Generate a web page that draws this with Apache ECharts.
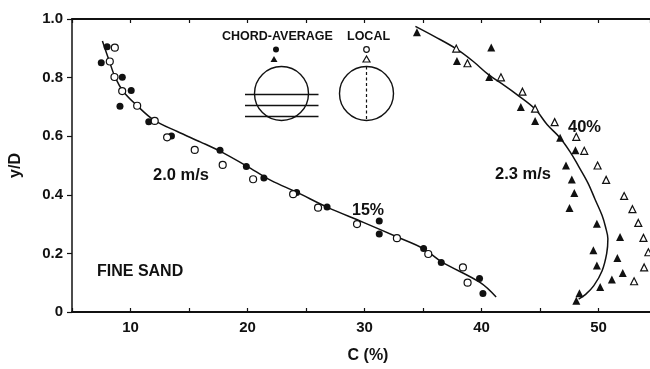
<!DOCTYPE html>
<html>
<head>
<meta charset="utf-8">
<script src="https://cdn.jsdelivr.net/npm/echarts@6/dist/echarts.min.js"></script>
<style>
  html, body { margin: 0; padding: 0; background: #fff; }
  #chart { width: 650px; height: 369px; }
</style>
</head>
<body>
<div id="chart"></div>
<script>
// Concentration profiles C (%) against height y/D, fine sand slurry.
// 2.0 m/s, 15 % mean concentration: chord-average (filled) and local (open) probes
const chordCircles = [
  [8.0, 0.905], [7.5, 0.851], [9.3, 0.801], [10.06, 0.756], [9.1, 0.702],
  [11.56, 0.649], [13.5, 0.601], [17.65, 0.552], [19.9, 0.497], [21.4, 0.457],
  [24.2, 0.408], [26.8, 0.358], [31.26, 0.311], [31.26, 0.266], [35.05, 0.217],
  [36.56, 0.169], [39.83, 0.114], [40.12, 0.063]
];
const localCircles = [
  [8.66, 0.902], [8.23, 0.855], [8.63, 0.802], [9.29, 0.754], [10.57, 0.704],
  [12.07, 0.652], [13.13, 0.596], [15.49, 0.553], [17.88, 0.502], [20.48, 0.453],
  [23.9, 0.402], [26.03, 0.356], [29.36, 0.300], [32.77, 0.252], [35.45, 0.198],
  [38.41, 0.152], [38.81, 0.100]
];
// 2.3 m/s, 40 % mean concentration
const chordTriangles = [
  [34.48, 0.955], [37.9, 0.857], [40.83, 0.903], [40.66, 0.802], [43.36, 0.700],
  [44.58, 0.652], [46.72, 0.595], [48.03, 0.552], [47.22, 0.500], [47.72, 0.452],
  [47.93, 0.406], [47.52, 0.355], [49.86, 0.301], [51.84, 0.256], [49.56, 0.211],
  [51.61, 0.184], [49.86, 0.159], [52.07, 0.133], [51.14, 0.111], [50.14, 0.085],
  [48.37, 0.064], [48.1, 0.038]
];
const localTriangles = [
  [37.84, 0.899], [38.8, 0.849], [41.66, 0.801], [43.5, 0.752], [44.58, 0.694],
  [46.25, 0.648], [48.1, 0.598], [48.78, 0.550], [49.92, 0.500], [50.65, 0.451],
  [52.19, 0.396], [52.9, 0.351], [53.4, 0.304], [53.84, 0.253], [54.26, 0.204],
  [53.9, 0.152], [53.04, 0.105]
];
// Fitted profile curves
const fitCurve15 = [
  [7.6, 0.925], [8.2, 0.855], [8.7, 0.800], [9.4, 0.752], [10.6, 0.703],
  [12.0, 0.655], [14.0, 0.616], [16.0, 0.580], [17.6, 0.550], [19.9, 0.499],
  [22.0, 0.449], [24.2, 0.409], [26.8, 0.358], [29.9, 0.306], [32.8, 0.256],
  [35.0, 0.217], [36.6, 0.171], [39.9, 0.100], [41.25, 0.051]
];
const fitCurve40 = [
  [34.35, 0.975], [36.0, 0.940], [37.85, 0.898], [39.3, 0.855], [40.6, 0.810],
  [42.0, 0.772], [43.0, 0.743], [44.6, 0.692], [45.6, 0.640], [46.7, 0.595],
  [47.6, 0.545], [48.3, 0.497], [49.1, 0.440], [49.7, 0.385], [50.3, 0.330],
  [50.6, 0.290], [50.8, 0.250], [50.7, 0.200], [50.3, 0.140], [49.6, 0.090],
  [48.9, 0.060], [48.3, 0.044]
];
const xRange = [5, 54.4];
const yTickLabels = { 0: '0', 0.2: '0.2', 0.4: '0.4', 0.6: '0.6', 0.8: '0.8', 1: '1.0' };

const FONT = "'Liberation Sans', Arial, Helvetica, sans-serif";
const INK = '#111';

const chart = echarts.init(document.getElementById('chart'), null, { renderer: 'canvas' });

function txt(text, x, y, size) {
  return {
    type: 'text', x: x, y: y,
    style: { text: text, fill: INK, font: 'bold ' + size + 'px ' + FONT, textVerticalAlign: 'middle' }
  };
}

const filledStyle = { color: INK, opacity: 1 };
const openStyle = { color: '#fff', borderColor: INK, borderWidth: 1.2, opacity: 1 };

chart.setOption({
  backgroundColor: '#fff',
  animation: false,
  grid: { left: 72, right: 0, top: 19, bottom: 52 },
  xAxis: [
    {
      type: 'value', position: 'bottom', min: xRange[0], max: xRange[1], interval: 5,
      name: 'C (%)', nameLocation: 'middle', nameGap: 36,
      nameTextStyle: { color: INK, fontFamily: FONT, fontWeight: 'bold', fontSize: 16, padding: [0, 0, 0, 14] },
      axisLine: { lineStyle: { color: INK, width: 2 } },
      axisTick: { inside: true, length: 4, lineStyle: { color: INK, width: 1.2 } },
      axisLabel: {
        color: INK, fontFamily: FONT, fontWeight: 'bold', fontSize: 15, margin: 8,
        showMaxLabel: false,
        formatter: v => (Math.abs(v % 10) < 1e-9 ? String(v) : '')
      },
      splitLine: { show: false }
    },
    {
      type: 'value', position: 'top', min: xRange[0], max: xRange[1], interval: 5,
      axisLine: { lineStyle: { color: INK, width: 2 } },
      axisTick: { inside: true, length: 4, lineStyle: { color: INK, width: 1.2 } },
      axisLabel: { show: false },
      splitLine: { show: false }
    }
  ],
  yAxis: {
    type: 'value', min: 0, max: 1, interval: 0.2,
    name: 'y/D', nameLocation: 'middle', nameGap: 48, nameRotate: 90,
    nameTextStyle: { color: INK, fontFamily: FONT, fontWeight: 'bold', fontSize: 16 },
    axisLine: { lineStyle: { color: INK, width: 1.5 } },
    axisTick: { inside: false, length: 5, lineStyle: { color: INK, width: 1.2 } },
    axisLabel: {
      color: INK, fontFamily: FONT, fontWeight: 'bold', fontSize: 15, margin: 9,
      formatter: v => yTickLabels[Math.round(v * 10) / 10] || ''
    },
    splitLine: { show: false }
  },
  series: [
    {
      name: 'fit 2.0 m/s', type: 'line', data: fitCurve15, smooth: 0.35, showSymbol: false,
      lineStyle: { color: INK, width: 1.5 }, z: 2
    },
    {
      name: 'fit 2.3 m/s', type: 'line', data: fitCurve40, smooth: 0.35, showSymbol: false,
      lineStyle: { color: INK, width: 1.5 }, z: 2
    },
    { name: 'chord 2.0', type: 'scatter', data: chordCircles, symbol: 'circle', symbolSize: 7, itemStyle: filledStyle, z: 3 },
    { name: 'local 2.0', type: 'scatter', data: localCircles, symbol: 'circle', symbolSize: 7, itemStyle: openStyle, z: 3 },
    { name: 'chord 2.3', type: 'scatter', data: chordTriangles, symbol: 'triangle', symbolSize: 8, itemStyle: filledStyle, z: 3 },
    { name: 'local 2.3', type: 'scatter', data: localTriangles, symbol: 'triangle', symbolSize: 7, itemStyle: openStyle, z: 3 }
  ],
  graphic: [
    // curve annotations
    txt('2.0 m/s', 153, 175, 16.5),
    txt('15%', 352, 211, 16),
    txt('FINE SAND', 97, 272, 16),
    txt('40%', 568, 127, 16.5),
    txt('2.3 m/s', 495, 174, 16.5),
    // probe key
    txt('CHORD-AVERAGE', 222, 37, 12.5),
    txt('LOCAL', 347, 37, 12.5),
    { type: 'circle', shape: { cx: 276, cy: 49.5, r: 3 }, style: { fill: INK } },
    { type: 'polygon', shape: { points: [[274, 56], [270.5, 62], [277.5, 62]] }, style: { fill: INK } },
    { type: 'circle', shape: { cx: 366.5, cy: 49.5, r: 2.8 }, style: { fill: '#fff', stroke: INK, lineWidth: 1.2 } },
    { type: 'polygon', shape: { points: [[366.5, 56], [363, 62], [370, 62]] }, style: { fill: '#fff', stroke: INK, lineWidth: 1.2 } },
    // chord-average pipe section with three chords
    { type: 'circle', shape: { cx: 281.5, cy: 93.5, r: 27 }, style: { fill: 'none', stroke: INK, lineWidth: 1.4 } },
    { type: 'line', shape: { x1: 245, y1: 94.5, x2: 318.5, y2: 94.5 }, style: { stroke: INK, lineWidth: 1.4 } },
    { type: 'line', shape: { x1: 245, y1: 105.5, x2: 318.5, y2: 105.5 }, style: { stroke: INK, lineWidth: 1.4 } },
    { type: 'line', shape: { x1: 245, y1: 116.5, x2: 318.5, y2: 116.5 }, style: { stroke: INK, lineWidth: 1.4 } },
    // local probe traverse
    { type: 'circle', shape: { cx: 366.5, cy: 93.5, r: 27 }, style: { fill: 'none', stroke: INK, lineWidth: 1.4 } },
    { type: 'line', shape: { x1: 366.5, y1: 66.5, x2: 366.5, y2: 120.5 }, style: { stroke: INK, lineWidth: 1.2, lineDash: [3, 2.5] } }
  ]
});
</script>
</body>
</html>
